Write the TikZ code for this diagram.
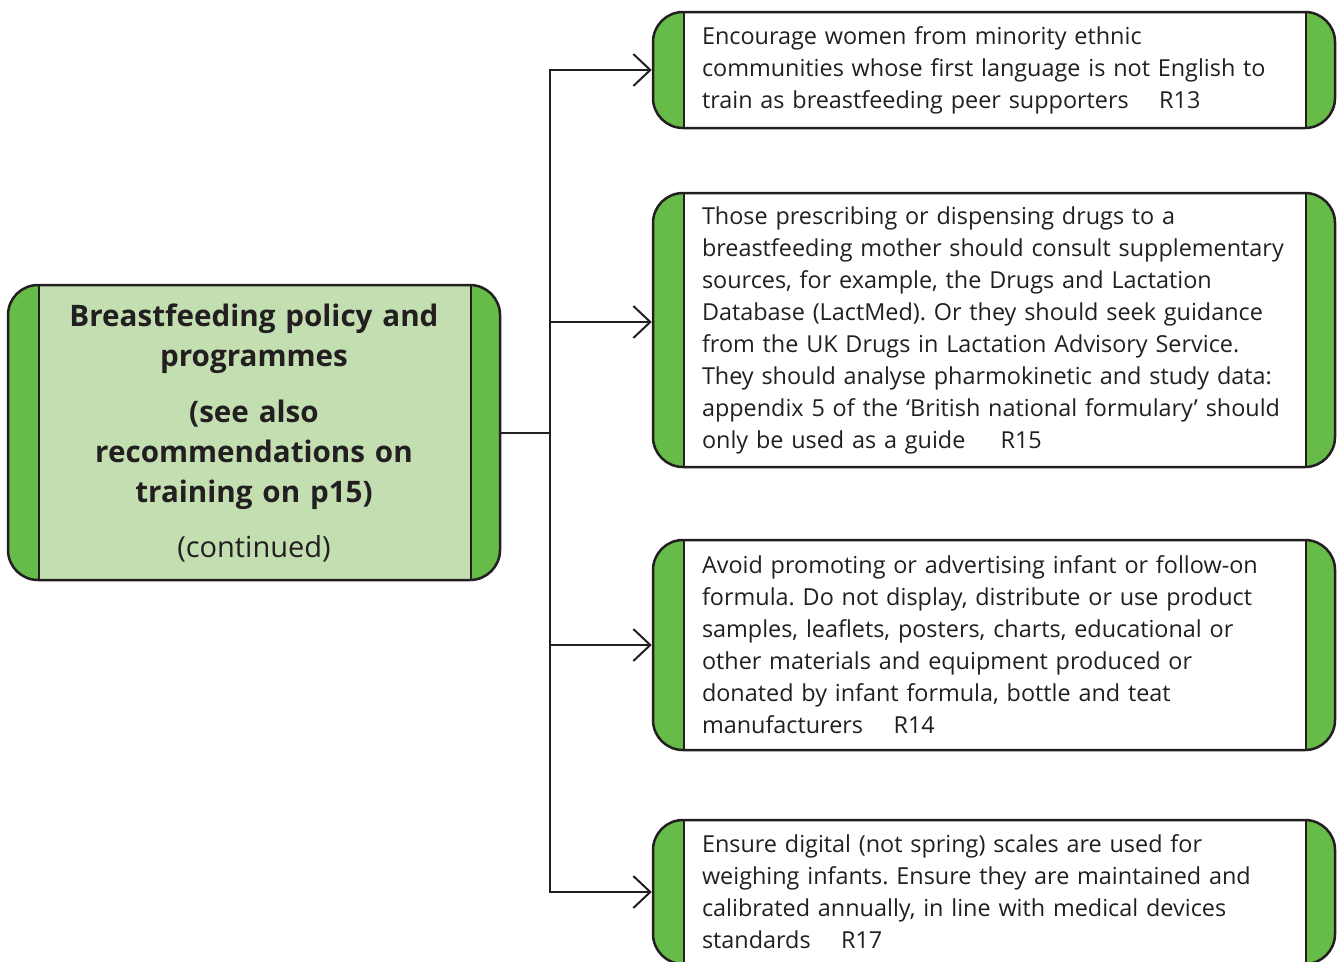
\documentclass[tikz,border=0pt]{standalone}
\usepackage{fontspec}
\setmainfont{Open Sans}
\usetikzlibrary{arrows.meta, positioning}
\definecolor{bandgreen}{HTML}{66BB49}
\definecolor{palegreen}{HTML}{C3DFB1}
\definecolor{inkgrey}{HTML}{231F20}
\frenchspacing

\begin{document}
\begin{tikzpicture}[
  x=1pt, y=-1pt,
  rec/.style = {draw=inkgrey, line width=2.5pt, fill=bandgreen, rounded corners=30pt,
    text=inkgrey, align=left, inner ysep=0pt,
    path picture={\draw[line width=2.5pt, sharp corners, fill=#1]
      ([xshift=31pt]path picture bounding box.north west) rectangle
      ([xshift=-29pt]path picture bounding box.south east);}},
  rec/.default = white,
  item/.style = {rec, text width=584pt, inner xsep=49pt, font=\fontsize{23.4}{32}\selectfont},
  arrow/.style = {-{Straight Barb[length=17pt, width=32pt, line width=2pt]}, line width=2pt, draw=inkgrey}
]
\useasboundingbox (0,0) rectangle (1337,961);

% Left box
\node[rec=palegreen, align=center, text width=420pt, inner xsep=36pt, minimum height=295pt,
  font=\fontsize{29.6}{40}\selectfont\bfseries] (policy) at (254,432.5)
  {Breastfeeding policy and\\ programmes\\[16pt]
   (see also\\ recommendations on\\ training on p15)\\[15pt]
   {\mdseries\fontsize{29}{40}\selectfont (continued)}};

% Recommendation boxes
\node[item, minimum height=116pt] (r13) at (994,70)
  {Encourage women from minority ethnic\\
   communities whose first language is not English to\\
   train as breastfeeding peer supporters\hspace{1.3em}R13};
\node[item, minimum height=274pt] (r15) at (994,330)
  {Those prescribing or dispensing drugs to a\\
   breastfeeding mother should consult supplementary\\
   sources, for example, the Drugs and Lactation\\
   Database (LactMed). Or they should seek guidance\\
   from the UK Drugs in Lactation Advisory Service.\\
   They should analyse pharmokinetic and study data:\\
   appendix 5 of the ‘British national formulary’ should\\
   only be used as a guide\hspace{1.5em}R15};
\node[item, minimum height=210pt] (r14) at (994,645)
  {Avoid promoting or advertising infant or follow-on\\
   formula. Do not display, distribute or use product\\
   samples, leaflets, posters, charts, educational or\\
   other materials and equipment produced or\\
   donated by infant formula, bottle and teat\\
   manufacturers\hspace{1.3em}R14};
\node[item, minimum height=144pt] (r17) at (994,892)
  {Ensure digital (not spring) scales are used for\\
   weighing infants. Ensure they are maintained and\\
   calibrated annually, in line with medical devices\\
   standards\hspace{1.3em}R17};

% Arrows
\coordinate (hub) at ([xshift=49pt]policy.east);
\draw[arrow] (policy.east) -- (hub) |- (r13.west);
\draw[arrow] (policy.east) -- (hub) |- ([yshift=8pt]r15.west);
\draw[arrow] (policy.east) -- (hub) |- (r14.west);
\draw[arrow] (policy.east) -- (hub) |- (r17.west);
\end{tikzpicture}
\end{document}
